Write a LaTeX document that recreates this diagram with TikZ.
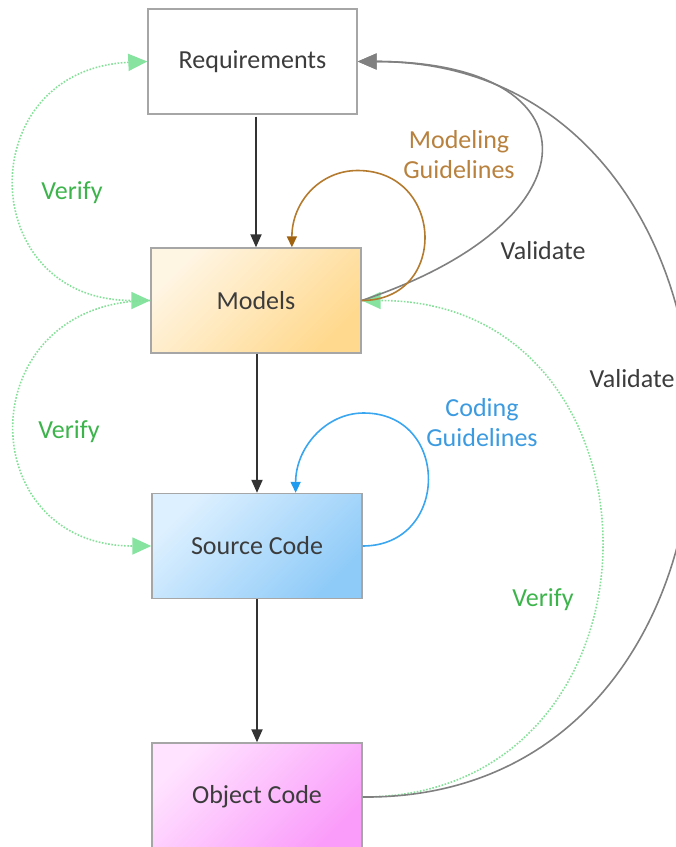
\documentclass[tikz,border=0pt]{standalone}
\usepackage{fontspec}
\setmainfont{Carlito}
\usetikzlibrary{arrows.meta}

\definecolor{txt}{HTML}{3C3C3C}
\definecolor{boxline}{HTML}{A6A6A6}
\definecolor{flowc}{HTML}{333333}
\definecolor{verifyc}{HTML}{84E098}
\definecolor{verifytip}{HTML}{86E3A0}
\definecolor{verifytxt}{HTML}{3CB44B}
\definecolor{validc}{HTML}{808080}
\definecolor{modc}{HTML}{B47A2E}
\definecolor{modtip}{HTML}{A0620F}
\definecolor{modtxt}{HTML}{B8813E}
\definecolor{codec}{HTML}{3AA6F0}
\definecolor{codetip}{HTML}{1E9BEF}
\definecolor{codetxt}{HTML}{3C9BE0}
\newcommand{\diagfont}{\fontsize{26}{30}\selectfont}

\begin{document}
\begin{tikzpicture}[x=1pt, y=-1pt,
		box/.style={draw=boxline, line width=1.4pt, minimum width=210pt, minimum height=105pt, text=txt, font=\diagfont},
		lbl/.style={font=\diagfont, align=center},
		gtip/.tip={Triangle[length=19pt, width=17pt, color=verifytip]},
		flow/.style={draw=flowc, line width=2pt, -{Triangle[length=13pt, width=11pt]}},
		verify/.style={draw=verifyc, line width=1.6pt, dash pattern=on 1.6pt off 1.6pt},
		validate/.style={draw=validc, line width=1.6pt, -{Triangle[length=19pt, width=16pt]}},
		guide/.style={line width=1.6pt}
	]
	\useasboundingbox (0, 0) rectangle (676, 847);

	% boxes
	\node[box, minimum width=209pt, fill=white] (req) at (252.5, 61.5) {Requirements};
	\node[box, top color={rgb,255:red,255;green,245;blue,227}, bottom color={rgb,255:red,255;green,217;blue,142}, shading angle=45] (mod) at (256, 300.5) {Models};
	\node[box, top color={rgb,255:red,221;green,240;blue,255}, bottom color={rgb,255:red,143;green,203;blue,248}, shading angle=45] (src) at (257, 546) {Source Code};
	\node[box, minimum height=108pt, top color={rgb,255:red,255;green,227;blue,255}, bottom color={rgb,255:red,250;green,156;blue,250}, shading angle=45] (obj) at (257, 797) {Object Code};

	% main flow
	\draw[flow, shorten <=2pt] (mod.north |- req.south) -- (mod.north);
	\draw[flow] (src.north |- mod.south) -- (src.north);
	\draw[flow] (obj.north |- src.south) -- (obj.north);

	% verify
	\draw[verify, gtip-gtip] (req.west) .. controls +(-176, 8) and +(-176, 0) .. (mod.west);
	\draw[verify, -gtip] (mod.west) .. controls +(-181, 0) and +(-181, 0) .. (src.west);
	\draw[verify, -gtip] (obj.east) .. controls +(318, 0) and +(318, 0) .. (mod.east);
	\node[lbl, text=verifytxt] (vfyreq) at (72, 193) {Verify};
	\node[lbl, text=verifytxt] (vfysrc) at (69, 432) {Verify};
	\node[lbl, text=verifytxt] (vfyobj) at (543, 600) {Verify};

	% validate
	\draw[validate] (mod.east) .. controls +(240, -80) and +(241, 0) .. (req.east);
	\draw[validate] (obj.east) .. controls +(440, 4) and +(440, 0) .. (req.east);
	\node[lbl, text=txt] (valmod) at (543, 251) {Validate};
	\node[lbl, text=txt] (valobj) at (632, 379) {Validate};

	% guidelines
	\draw[guide, draw=modc, -{Triangle[length=11pt, width=10pt, color=modtip]}] (mod.east) .. controls +(87, 0) and +(87, 0) .. ++(-4, -130) .. controls +(-38, 0) and +(0, -45) .. (mod.56);
	\draw[guide, draw=codec, -{Triangle[length=11pt, width=10pt, color=codetip]}] (src.east) .. controls +(87, 0) and +(87, 0) .. ++(1, -133) .. controls +(-38, 0) and +(0, -45) .. (src.54);
	\node[lbl, text=modtxt] (mguide) at (459, 155) {Modeling\\Guidelines};
	\node[lbl, text=codetxt] (cguide) at (482, 423) {Coding\\Guidelines};
\end{tikzpicture}
\end{document}
